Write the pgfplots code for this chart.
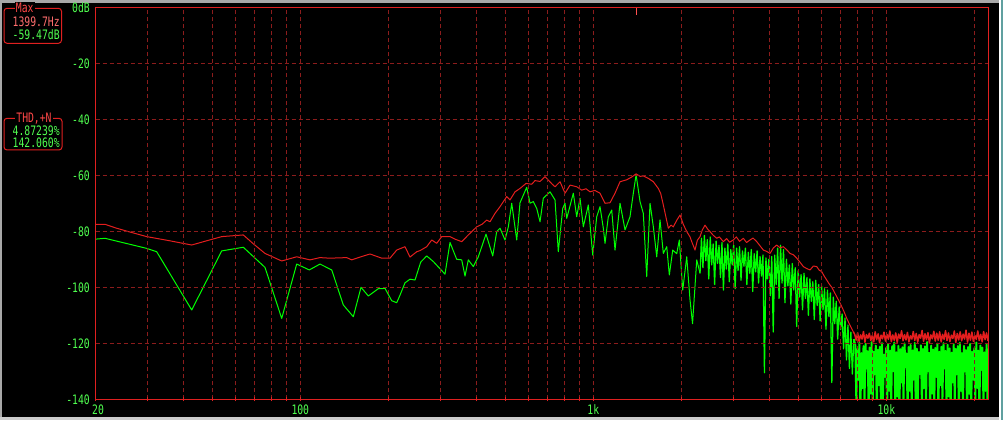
\documentclass[border=0pt]{standalone}
\usepackage{pgfplots}
\pgfplotsset{compat=1.18}
\usepackage{graphicx}
\usepackage{fontspec}
\newfontfamily\lcd{DejaVu Sans Mono}
\newcommand\lcdtxt[1]{\scalebox{0.75}[1]{\lcd\fontsize{13}{14}\selectfont #1}}
\definecolor{axred}{RGB}{224,32,32}
\definecolor{gridred}{RGB}{140,28,28}
\definecolor{trgreen}{RGB}{0,255,0}
\definecolor{trred}{RGB}{228,30,30}
\definecolor{labgreen}{RGB}{80,255,80}
\definecolor{labpink}{RGB}{255,110,110}
\definecolor{labred}{RGB}{255,72,72}
\definecolor{markred}{RGB}{255,80,80}
\definecolor{framegray}{RGB}{168,168,168}
\definecolor{edgeteal}{RGB}{96,160,160}

\pgfplotstableread{
1.3010 -82.8
1.3335 -82.5
1.4758 -86.1
1.5099 -87.3
1.6294 -108.1
1.7318 -87.0
1.8055 -85.7
1.8795 -92.9
1.9365 -111.1
1.9877 -91.7
2.0307 -93.8
2.0672 -91.7
2.1072 -93.8
2.1467 -106.3
2.1809 -110.5
2.2072 -100.0
2.2321 -103.1
2.2662 -100.5
2.2891 -100.4
2.3120 -104.8
2.3290 -105.5
2.3403 -102.8
2.3573 -98.4
2.3744 -97.1
2.3915 -97.4
2.4109 -91.0
2.4314 -88.8
2.4539 -90.8
2.4938 -95.3
2.5109 -84.0
2.5338 -90.0
2.5508 -90.2
2.5621 -96.0
2.5734 -90.2
2.5904 -92.6
2.6075 -89.1
2.6338 -81.0
2.6567 -88.8
2.6703 -80.1
2.6816 -78.9
2.6986 -83.1
2.7099 -78.4
2.7215 -70.0
2.7386 -83.1
2.7498 -69.8
2.7727 -64.3
2.7840 -70.0
2.7952 -69.4
2.8068 -71.8
2.8181 -76.6
2.8293 -68.2
2.8522 -65.9
2.8693 -68.8
2.8805 -87.3
2.8956 -71.8
2.9034 -70.0
2.9092 -75.4
2.9317 -66.4
2.9433 -74.8
2.9546 -68.2
2.9659 -78.4
2.9829 -70.6
2.9979 -88.5
3.0116 -74.8
3.0229 -71.2
3.0341 -78.9
3.0399 -84.3
3.0512 -74.8
3.0628 -72.4
3.0740 -86.7
3.0911 -70.0
3.1082 -79.5
3.1252 -74.8
3.1365 -66.4
3.1460 -59.8
3.1594 -69.4
3.1706 -73.6
3.1822 -96.2
3.1935 -70.0
3.2048 -78.4
3.2164 -89.1
3.2276 -75.9
3.2389 -87.9
3.2505 -85.5
3.2594 -95.6
3.2710 -86.7
3.2846 -88.0
3.2935 -83.1
3.3051 -101.0
3.3188 -89.1
3.3300 -104.5
3.3386 -113.0
3.3529 -90.2
3.3642 -95.0
3.369 -82.5
3.374 -93.0
3.379 -81.5
3.384 -90.5
3.389 -83.0
3.394 -97.0
3.399 -82.0
3.404 -92.0
3.409 -84.5
3.414 -99.0
3.419 -83.5
3.424 -91.5
3.429 -85.0
3.434 -96.5
3.439 -84.0
3.444 -101.0
3.449 -86.0
3.454 -93.5
3.459 -84.5
3.464 -98.0
3.469 -86.5
3.474 -92.0
3.479 -85.0
3.484 -100.5
3.489 -86.0
3.494 -94.0
3.499 -85.5
3.504 -97.5
3.509 -87.0
3.514 -92.5
3.519 -86.0
3.524 -99.0
3.529 -87.5
3.534 -95.0
3.539 -86.5
3.544 -101.5
3.549 -88.0
3.554 -94.5
3.559 -87.0
3.564 -98.5
3.569 -89.0
3.574 -96.0
3.579 -88.5
3.584 -130.5
3.589 -89.5
3.594 -97.0
3.599 -90.0
3.604 -103.0
3.609 -89.0
3.614 -116.0
3.619 -88.5
3.624 -99.0
3.629 -86.0
3.634 -104.0
3.639 -85.0
3.644 -98.5
3.649 -86.5
3.654 -105.5
3.659 -90.0
3.664 -99.5
3.669 -92.0
3.674 -106.0
3.679 -91.5
3.684 -101.0
3.689 -93.0
3.694 -114.0
3.699 -94.0
3.704 -103.5
3.709 -95.5
3.714 -108.0
3.719 -95.0
3.724 -104.0
3.729 -96.5
3.734 -110.0
3.739 -97.0
3.744 -105.0
3.749 -98.0
3.754 -111.5
3.759 -97.5
3.764 -106.5
3.769 -99.0
3.774 -112.0
3.779 -99.5
3.784 -108.0
3.789 -100.5
3.794 -115.0
3.799 -101.0
3.804 -110.5
3.809 -102.0
3.814 -134.0
3.819 -103.5
3.824 -113.0
3.829 -105.0
3.834 -118.5
3.839 -107.0
3.844 -115.0
3.849 -109.5
3.854 -122.0
3.859 -111.0
3.864 -126.0
3.869 -113.5
3.874 -129.0
3.879 -116.0
3.884 -131.0
3.889 -118.5
3.8940 -120.5
3.8975 -141
3.9010 -122.0
3.9045 -133
3.9080 -119.8
3.9115 -145
3.9150 -123.5
3.9185 -136
3.9220 -121.0
3.9255 -142
3.9290 -120.2
3.9325 -129
3.9360 -122.8
3.9395 -144
3.9430 -121.5
3.9465 -138
3.9500 -119.6
3.9535 -143
3.9570 -123.0
3.9605 -131
3.9640 -120.8
3.9675 -146
3.9710 -122.3
3.9745 -135
3.9780 -121.2
3.9815 -142
3.9850 -119.9
3.9885 -140
3.9920 -124.0
3.9955 -132
3.9990 -121.7
4.0025 -145
4.0060 -120.4
4.0095 -137
4.0130 -122.6
4.0165 -143
4.0200 -121.0
4.0235 -130
4.0270 -119.7
4.0305 -144
4.0340 -123.2
4.0375 -139
4.0410 -120.9
4.0445 -146
4.0480 -122.1
4.0515 -134
4.0550 -121.4
4.0585 -141
4.0620 -120.0
4.0655 -128.5
4.0690 -123.6
4.0725 -145
4.0760 -121.3
4.0795 -137
4.0830 -120.6
4.0865 -143
4.0900 -122.5
4.0935 -133
4.0970 -119.8
4.1005 -146
4.1040 -121.9
4.1075 -140
4.1110 -123.1
4.1145 -131
4.1180 -120.7
4.1215 -144
4.1250 -122.0
4.1285 -136
4.1320 -121.1
4.1355 -142
4.1390 -119.5
4.1425 -130
4.1460 -123.4
4.1495 -145
4.1530 -120.8
4.1565 -138
4.1600 -122.2
4.1635 -143
4.1670 -121.6
4.1705 -132
4.1740 -120.1
4.1775 -146
4.1810 -123.0
4.1845 -135
4.1880 -121.2
4.1915 -141
4.1950 -119.9
4.1985 -129
4.2020 -122.7
4.2055 -144
4.2090 -120.5
4.2125 -139
4.2160 -121.8
4.2195 -145
4.2230 -123.3
4.2265 -134
4.2300 -120.3
4.2335 -142
4.2370 -122.0
4.2405 -131
4.2440 -121.0
4.2475 -146
4.2510 -119.8
4.2545 -137
4.2580 -123.5
4.2615 -143
4.2650 -120.9
4.2685 -130
4.2720 -122.4
4.2755 -145
4.2790 -121.3
4.2825 -138
4.2860 -120.2
4.2895 -144
4.2930 -123.0
4.2965 -133
4.3000 -121.7
4.3035 -141
4.3070 -119.7
4.3105 -136
4.3140 -122.6
4.3175 -146
4.3210 -120.8
4.3245 -129.5
4.3280 -121.5
4.3315 -143
4.3350 -123.2
4.3385 -137
4.3420 -120.4
4.3455 -145
4.3490 -121.9
}\greendata

\pgfplotstableread{
1.3010 -77.5
1.3335 -77.5
1.3700 -78.8
1.4200 -80.3
1.4758 -81.9
1.5500 -83.3
1.6294 -84.9
1.6800 -83.4
1.7318 -81.9
1.8055 -81.3
1.8400 -84.5
1.8795 -87.9
1.9365 -90.6
1.9877 -89.1
2.0331 -90.2
2.0672 -89.4
2.1000 -89.6
2.1583 -89.4
2.1754 -90.2
2.2100 -89.0
2.2379 -88.1
2.2778 -89.6
2.3061 -89.6
2.3290 -86.7
2.3573 -85.5
2.3744 -89.2
2.3973 -87.3
2.4085 -86.9
2.4314 -85.5
2.4485 -83.1
2.4655 -84.3
2.4826 -81.9
2.5109 -81.9
2.5280 -82.8
2.5508 -83.7
2.5734 -81.3
2.6020 -78.4
2.6200 -77.5
2.6362 -76.0
2.6474 -76.6
2.6645 -73.6
2.6816 -71.2
2.7044 -67.6
2.7157 -68.8
2.7328 -65.9
2.7498 -64.7
2.7703 -62.9
2.7898 -63.2
2.8010 -61.9
2.8181 -62.2
2.8351 -60.5
2.8464 -61.7
2.8580 -63.0
2.8693 -64.1
2.8863 -62.3
2.9034 -66.4
2.9205 -63.5
2.9433 -64.1
2.9604 -65.3
2.9750 -64.8
2.9887 -65.9
3.0050 -65.4
3.0229 -66.4
3.0399 -70.0
3.0570 -69.8
3.0740 -66.4
3.0911 -62.3
3.1140 -61.6
3.1311 -60.6
3.1460 -59.5
3.1600 -60.4
3.1706 -60.2
3.1877 -61.1
3.2048 -62.3
3.2218 -64.7
3.2300 -66.5
3.2389 -70.6
3.2480 -75.0
3.2560 -78.9
3.2650 -77.8
3.2730 -78.4
3.2850 -76.0
3.2959 -74.2
3.3070 -77.5
3.3188 -80.1
3.3300 -82.0
3.3358 -83.7
3.3471 -86.7
3.3550 -83.2
3.3642 -81.9
3.3720 -79.5
3.3812 -77.8
3.3900 -79.2
3.3983 -80.1
3.4090 -81.4
3.4211 -82.5
3.4300 -82.0
3.4437 -83.7
3.4550 -82.6
3.4650 -83.9
3.4778 -83.1
3.4880 -82.0
3.4990 -83.6
3.5119 -82.5
3.5230 -84.0
3.5348 -83.1
3.5450 -82.4
3.5577 -83.7
3.5690 -85.2
3.5802 -86.7
3.5920 -87.2
3.6031 -87.9
3.6140 -86.0
3.6259 -84.9
3.6370 -85.9
3.6485 -85.5
3.6600 -86.6
3.6713 -87.9
3.6830 -88.4
3.6942 -89.6
3.7050 -91.0
3.7167 -92.6
3.7280 -93.3
3.7396 -93.8
3.7510 -92.4
3.7624 -92.6
3.7710 -93.9
3.7795 -94.4
3.7880 -96.0
3.7966 -97.4
3.8050 -98.8
3.8137 -100.0
3.8220 -101.6
3.8307 -103.4
3.8390 -105.0
3.8478 -106.9
3.8560 -108.8
3.8649 -111.1
3.8760 -113.6
3.8874 -115.9
3.892 -116.8
3.897 -118.9
3.902 -116.2
3.907 -119.3
3.912 -117.0
3.917 -118.5
3.922 -115.8
3.927 -119.6
3.932 -116.9
3.937 -118.2
3.942 -116.4
3.947 -119.0
3.952 -117.2
3.957 -119.5
3.962 -115.9
3.967 -118.7
3.972 -116.6
3.977 -119.8
3.982 -117.1
3.987 -118.4
3.992 -116.0
3.997 -119.2
4.002 -116.8
4.007 -118.6
4.012 -115.6
4.017 -119.4
4.022 -117.0
4.027 -118.9
4.032 -116.3
4.037 -119.7
4.042 -116.7
4.047 -118.3
4.052 -115.5
4.057 -119.1
4.062 -116.9
4.067 -118.8
4.072 -116.1
4.077 -119.5
4.082 -117.3
4.087 -118.5
4.092 -115.8
4.097 -119.0
4.102 -116.5
4.107 -119.6
4.112 -116.9
4.117 -118.2
4.122 -115.4
4.127 -119.3
4.132 -116.6
4.137 -118.7
4.142 -116.2
4.147 -119.8
4.152 -117.0
4.157 -118.4
4.162 -115.7
4.167 -119.2
4.172 -116.4
4.177 -118.9
4.182 -115.9
4.187 -119.5
4.192 -116.8
4.197 -118.6
4.202 -115.5
4.207 -119.0
4.212 -116.3
4.217 -119.4
4.222 -117.1
4.227 -118.3
4.232 -115.6
4.237 -119.7
4.242 -116.5
4.247 -118.8
4.252 -115.9
4.257 -119.1
4.262 -116.7
4.267 -118.5
4.272 -115.3
4.277 -119.6
4.282 -116.4
4.287 -118.9
4.292 -116.0
4.297 -119.3
4.302 -117.2
4.307 -118.6
4.312 -115.6
4.317 -119.0
4.322 -116.8
4.327 -119.5
4.332 -115.8
4.337 -118.7
4.342 -116.3
4.347 -119.2
}\reddata

\begin{document}
\begin{tikzpicture}[x=1pt,y=1pt]
\useasboundingbox (0pt,0pt) rectangle (1003pt,420pt);
\fill[black] (0pt,0pt) rectangle (1003pt,420pt);
\fill[framegray] (0pt,0pt) rectangle (2pt,420pt);
\fill[framegray] (0pt,417.2pt) rectangle (1003pt,420pt);
\fill[white!80!black] (0pt,0pt) rectangle (1003pt,3.3pt);
\fill[white] (999pt,0pt) rectangle (1000.5pt,420pt);
\fill[edgeteal] (1000.5pt,0pt) rectangle (1003pt,420pt);
% readout boxes
\draw[axred, line width=1pt, rounded corners=3pt] (4pt,376.7pt) rectangle (61.5pt,411.7pt);
\node[fill=black, inner sep=1pt, text=labred] at (24.7pt,411.7pt) {\lcdtxt{Max}};
\node[anchor=east, inner sep=0pt, text=labpink] at (59.9pt,398.3pt) {\lcdtxt{1399.7Hz}};
\node[anchor=east, inner sep=0pt, text=labgreen] at (59.9pt,385pt) {\lcdtxt{-59.47dB}};
\draw[axred, line width=1pt, rounded corners=3pt] (4pt,270pt) rectangle (62pt,301.7pt);
\node[fill=black, inner sep=1pt, text=labred] at (34pt,301.7pt) {\lcdtxt{THD,+N}};
\node[anchor=east, inner sep=0pt, text=labgreen] at (59.9pt,289pt) {\lcdtxt{4.87239\%}};
\node[anchor=east, inner sep=0pt, text=labgreen] at (59.9pt,277pt) {\lcdtxt{142.060\%}};
\begin{axis}[
  at={(95.5pt,20.7pt)}, anchor=south west,
  scale only axis, width=892.8pt, height=392pt,
  xmin=1.30103, xmax=4.348, ymin=-140, ymax=0,
  axis on top,
  axis line style={axred, line width=1pt},
  xtick={1.30103,1.47712,1.60206,1.69897,1.77815,1.84510,1.90309,1.95424,
         2,2.30103,2.47712,2.60206,2.69897,2.77815,2.84510,2.90309,2.95424,
         3,3.30103,3.47712,3.60206,3.69897,3.77815,3.84510,3.90309,3.95424,
         4,4.30103},
  xticklabels={\hspace*{5pt}\lcdtxt{20},,,,,,,,\lcdtxt{100},,,,,,,,,\lcdtxt{1k},,,,,,,,,\lcdtxt{10k},},
  ytick={0,-20,-40,-60,-80,-100,-120,-140},
  yticklabels={\lcdtxt{0dB},\lcdtxt{-20},\lcdtxt{-40},\lcdtxt{-60},\lcdtxt{-80},\lcdtxt{-100},\lcdtxt{-120},\lcdtxt{-140}},
  grid=major,
  major grid style={gridred, line width=1pt, dash pattern=on 4pt off 3pt},
  xtick pos=bottom, ytick pos=left,
  tick align=center, major tick length=4pt,
  xtick style={axred, line width=1pt},
  ytick style={draw=none},
  xticklabel style={text=labgreen, inner sep=0pt, anchor=north, yshift=-3pt},
  yticklabel style={text=labgreen, inner sep=0pt, anchor=east, xshift=-3.5pt},
]
\addplot[trgreen, line width=1pt, line join=round, mark=none,
  restrict x to domain=1.2:3.3643] table {\greendata};
\addplot[trgreen, line width=1.25pt, line join=round, mark=none,
  restrict x to domain=3.3642:3.8895] table {\greendata};
\addplot[trgreen, line width=1.9pt, line join=round, mark=none,
  restrict x to domain=3.889:4.4] table {\greendata};
\addplot[trred, line width=1pt, line join=round, mark=none,
  restrict x to domain=1.2:3.8875] table {\reddata};
\addplot[trred, line width=1.5pt, line join=round, mark=none,
  restrict x to domain=3.8874:4.4] table {\reddata};
\addplot[markred, line width=1.2pt, mark=none] coordinates {(3.14604,0) (3.14604,-2.9)};
\end{axis}
\end{tikzpicture}
\end{document}
